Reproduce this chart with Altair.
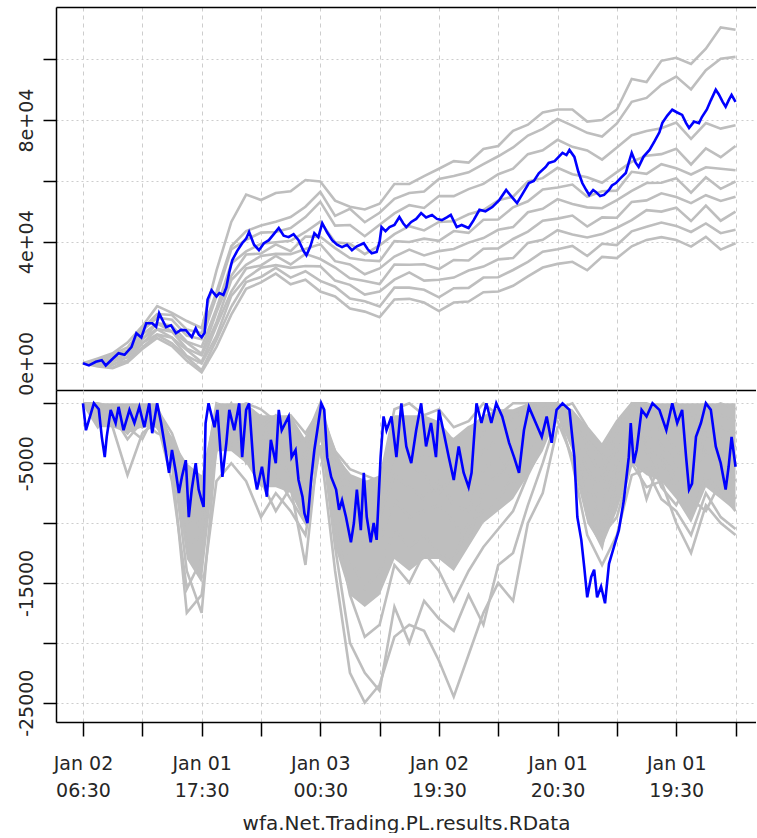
import altair as alt
import pandas as pd

# ---------------- axis ticks / labels ----------------
X_TICKS = [0, 60, 120, 180, 240, 300, 360, 420, 480, 540, 600, 660]
X_LABEL_POS = [0, 120, 240, 360, 480, 600]
X_LABEL_DAY = ["Jan 02", "Jan 01", "Jan 03", "Jan 02", "Jan 01", "Jan 01"]
X_LABEL_TIME = ["06:30", "17:30", "00:30", "19:30", "20:30", "19:30"]
X_TITLE = "wfa.Net.Trading.PL.results.RData"

EQ_TICKS = [0, 20000, 40000, 60000, 80000, 100000]
EQ_LABEL_POS = [0, 40000, 80000]
EQ_LABELS = ["0e+00", "4e+04", "8e+04"]

DD_TICKS = [0, -5000, -10000, -15000, -20000, -25000]
DD_LABEL_POS = [-5000, -15000, -25000]
DD_LABELS = ["-5000", "-15000", "-25000"]

# grid of bar index shared by the grey series
GRID_X = list(range(0, 661, 15))

# ---------------- equity curves (grey) ----------------
EQ_G1 = [0, 1600, 3300, 6800, 12200, 18800, 16600, 13900, 11600, 30500, 46500, 55500, 53700, 56000, 56600, 60300, 59800, 53500, 51500, 50600, 52500, 59000, 59000, 61600, 64000, 66500, 66000, 70500, 71500, 76500, 78500, 82500, 83500, 83500, 79500, 80000, 83500, 93500, 92500, 99500, 100500, 98500, 103500, 110500, 109700]
EQ_G2 = [0, 1100, 3000, 5200, 11400, 16200, 15900, 11100, 9900, 23500, 38500, 43500, 45300, 46600, 48100, 51500, 56400, 48500, 50800, 46400, 49500, 54100, 56000, 56500, 60600, 61600, 62800, 65500, 68100, 71000, 74900, 77100, 80400, 78200, 75800, 74600, 78900, 86000, 87300, 91600, 94300, 90100, 96400, 100200, 100800]
EQ_G3 = [0, 700, 2400, 4200, 10800, 15000, 14300, 9100, 7900, 22000, 37500, 40600, 43000, 43200, 44500, 48100, 53100, 45300, 45500, 41800, 45600, 49300, 52000, 51100, 55000, 55000, 57300, 59000, 62200, 64000, 68800, 70100, 73500, 71200, 70000, 67000, 71000, 75000, 76400, 77300, 79200, 73800, 79000, 77200, 78300]
EQ_G4 = [0, 200, 1500, 3100, 9500, 13200, 12400, 7100, 5400, 18000, 32800, 36800, 39300, 39800, 40300, 43200, 46600, 39800, 39300, 35900, 38800, 42500, 45100, 43700, 46500, 46700, 49000, 50400, 53600, 54800, 59800, 60900, 64300, 62200, 61200, 59400, 62900, 66300, 68300, 68800, 70600, 65400, 70700, 67800, 71500]
EQ_G5 = [0, 400, 500, 3300, 7900, 13100, 10500, 6800, 3100, 16800, 28800, 35800, 36100, 39100, 36900, 41700, 41600, 37900, 34600, 33900, 33600, 40200, 39900, 41000, 40300, 43500, 42900, 47200, 47300, 51300, 53300, 57200, 57800, 58800, 54800, 56600, 56800, 63000, 62300, 65500, 64200, 62100, 64500, 64000, 63500]
EQ_G6 = [0, -300, 700, 2000, 8100, 11300, 10400, 4800, 2600, 13500, 27400, 32400, 35300, 36000, 35900, 37600, 39200, 33600, 32500, 29300, 31200, 35100, 37400, 35500, 36900, 37600, 39700, 41200, 43900, 44800, 49700, 50800, 54000, 52400, 51300, 51000, 53700, 56700, 59300, 59400, 60900, 56100, 61200, 57400, 59800]
EQ_G7 = [0, -200, -500, 2100, 6600, 11200, 8500, 4400, 400, 12300, 23600, 31200, 32200, 35300, 32500, 36000, 34300, 31500, 28000, 27100, 26100, 32500, 32400, 32600, 31000, 34000, 33800, 37700, 37800, 40900, 43300, 46900, 47600, 48600, 45000, 48000, 47900, 53100, 53600, 55900, 54700, 52700, 55300, 53400, 54800]
EQ_G8 = [0, -800, -200, 800, 6700, 9500, 8400, 2400, -100, 9000, 22200, 28000, 31400, 32300, 31400, 32000, 31900, 27200, 25800, 22600, 23600, 27500, 29900, 27200, 27500, 28200, 30500, 31800, 34200, 34600, 39600, 40600, 43800, 42400, 41400, 42500, 44600, 47100, 50400, 49900, 51200, 46800, 51900, 46900, 49900]
EQ_G9 = [0, -700, -1400, 900, 5300, 9300, 6600, 2000, -2300, 7700, 18600, 26700, 28400, 31400, 28200, 30300, 27100, 25200, 21300, 20400, 18700, 24900, 24900, 24200, 21700, 24700, 24800, 28200, 28300, 30700, 33400, 36700, 37500, 38600, 35300, 39300, 38900, 43400, 44900, 46300, 45200, 43200, 46000, 42800, 43900]
EQ_G10 = [0, -1000, -1600, 300, 4700, 8300, 5700, 800, -3000, 5400, 16000, 24500, 26600, 29500, 26000, 27500, 23600, 22000, 18000, 17000, 15200, 21000, 21200, 20000, 17200, 20000, 20300, 23400, 23600, 25500, 28600, 31500, 32700, 33400, 30600, 35000, 34600, 38500, 40600, 41500, 40600, 38400, 41600, 37400, 39500]

# ---------------- equity curve (blue) ----------------
EQ_BLUE_X = [0, 6, 13, 19, 23, 30, 36, 42, 49, 54, 59, 64, 70, 74, 77, 80, 84, 89, 94, 99, 104, 110, 114, 117, 120, 123, 126, 130, 135, 138, 142, 145, 148, 151, 156, 161, 165, 168, 173, 178, 183, 188, 193, 198, 203, 208, 213, 218, 223, 226, 230, 234, 238, 242, 247, 252, 257, 262, 267, 272, 277, 284, 288, 292, 297, 300, 302, 306, 310, 315, 320, 324, 327, 332, 337, 342, 347, 353, 358, 363, 368, 372, 378, 383, 390, 395, 401, 407, 414, 421, 428, 433, 439, 445, 451, 456, 461, 468, 471, 477, 485, 489, 492, 497, 501, 505, 509, 512, 516, 519, 523, 527, 532, 535, 539, 544, 549, 552, 555, 559, 562, 567, 573, 578, 583, 586, 591, 596, 601, 606, 610, 613, 618, 623, 626, 631, 635, 640, 643, 647, 650, 653, 656, 660]
EQ_BLUE = [0, -700, 500, 1000, -700, 1500, 3300, 2800, 5300, 9900, 8500, 13200, 13200, 12000, 16500, 14500, 11900, 12500, 9900, 11000, 10900, 8600, 11500, 9500, 8600, 10000, 21000, 24000, 22000, 23100, 22500, 25000, 30000, 33900, 37000, 39500, 41000, 43200, 39000, 37200, 39500, 40500, 42500, 44500, 42000, 41500, 42500, 40500, 37000, 35500, 38500, 42800, 41500, 46100, 43000, 40500, 39000, 38200, 39000, 37200, 38500, 39500, 37500, 36200, 36600, 40000, 44800, 43500, 44800, 45500, 48100, 46000, 44800, 46500, 47500, 49400, 48000, 48800, 47500, 47100, 48000, 48800, 44800, 45500, 44500, 47000, 50500, 50000, 51400, 53700, 57000, 55000, 52700, 56000, 59300, 60000, 62500, 64600, 65900, 66500, 69200, 68500, 70200, 67900, 63000, 59300, 57000, 55400, 57000, 56300, 55000, 55400, 57000, 58500, 59300, 61000, 62600, 66000, 69200, 66000, 64600, 68000, 70200, 73000, 76000, 79100, 81500, 83400, 82500, 81700, 79000, 77400, 79500, 79000, 81000, 83500, 86500, 90000, 88500, 86000, 84400, 86500, 88300, 86000]

# ---------------- drawdowns (grey) ----------------
DD_G1 = [0, -800, -1500, -1200, -2000, -1000, -5000, -17500, -16000, -6500, -5000, -6500, -9500, -7500, -9000, -11000, -3500, -14000, -22500, -25000, -23500, -19500, -18500, -19000, -21500, -24500, -21000, -17500, -15000, -16500, -10000, -7500, -2000, -1000, -4000, -6000, -4000, -2000, -3500, -5000, -7000, -9500, -6000, -7500, -9000]
DD_G2 = [0, -1500, -800, -2500, -1200, -2000, -4000, -14000, -17500, -3500, -2000, -4000, -6500, -9000, -7000, -13500, -2000, -12000, -20000, -22500, -24000, -17000, -20000, -16500, -18000, -19000, -16000, -18500, -13500, -12500, -8500, -5000, -1000, -3000, -8500, -11000, -9500, -5000, -7000, -6500, -10000, -12500, -8500, -10000, -11000]
DD_G3 = [0, -500, -2000, -6000, -2500, -1500, -6500, -15500, -13000, -2000, -3500, -2500, -5000, -6000, -8000, -10000, -1000, -10000, -16000, -19500, -18500, -13500, -15000, -12500, -14000, -16500, -14000, -12000, -10500, -9000, -6000, -3500, -500, -5000, -11000, -13500, -11000, -6000, -5500, -8000, -9000, -11000, -7500, -9500, -10500]
DD_G4 = [0, -1000, -1200, -2000, -3000, -500, -3500, -12000, -11000, -4000, -1000, -5000, -3500, -4500, -6000, -8500, -2500, -8000, -13000, -15500, -14000, -10500, -12000, -11000, -12500, -13000, -10000, -9000, -8000, -6000, -4000, -2000, 0, -2000, -7000, -10000, -8000, -3500, -8000, -4500, -6000, -8000, -9000, -6500, -8000]
DD_G5 = [0, -300, -1000, -3000, -1500, -2500, -3000, -10000, -9000, -1500, -2500, -1500, -4000, -3000, -5000, -7000, -500, -7000, -10500, -12000, -11500, -8000, -9500, -9000, -8500, -10000, -11500, -7000, -6000, -4500, -3000, -1000, -1500, -4500, -9500, -12000, -6000, -1500, -4000, -7000, -8500, -6000, -4000, -5000, -6500]
DD_G6 = [0, -2000, -500, -1500, -2000, -1000, -4500, -8500, -10500, -3000, -500, -3000, -2000, -5000, -4000, -5000, -1500, -6000, -9000, -10000, -9500, -6000, -7000, -8000, -6500, -8500, -9000, -5500, -4500, -7000, -2000, -500, 0, -3500, -6000, -8500, -5000, -2500, -2000, -3500, -5000, -7000, -2500, -4000, -3500]
DD_G7 = [0, -700, -1800, -1000, -1000, -2000, -3500, -7500, -9500, -1000, -1500, -1000, -3000, -2000, -3000, -4500, -500, -5000, -8000, -8500, -8000, -4500, -5000, -6000, -7500, -6000, -5500, -4000, -3000, -2500, -1500, -1500, -500, -2500, -5500, -7000, -3500, -1000, -3000, -2000, -4000, -4500, -1500, -2500, -5000]
DD_G8 = [0, -1200, -1500, -2500, -500, -1500, -3000, -6500, -8500, -2000, 0, -2000, -1000, -3500, -2000, -3500, -1000, -4000, -7000, -7000, -7500, -3000, -3500, -4500, -4000, -5500, -3500, -2500, -2000, -1000, -500, 0, 0, -1500, -4000, -6000, -2500, -500, -1000, -1500, -2500, -3000, -1000, -2000, -2500]
DD_G9 = [0, -400, -700, -1500, -1000, -500, -2500, -6000, -8000, -500, -1000, -500, -2000, -1000, -2500, -3000, 0, -4500, -6000, -6500, -7000, -1500, -2000, -3000, -2500, -3000, -2000, -1500, -500, -1500, 0, -500, 0, -1000, -3000, -4500, -2000, 0, -500, -1000, -1500, -2000, 0, -1000, -1500]
DD_G10 = [0, 0, -300, -500, -300, -1000, -3000, -6000, -7500, 0, -500, 0, -500, -1500, -1000, -2500, -500, -4000, -5500, -6000, -6500, -500, 0, -1000, -500, -2000, -1500, 0, -1000, 0, 0, 0, -500, 0, -2000, -3500, -1500, 0, 0, -500, 0, -1000, -500, 0, -500]

# dense core of the grey drawdown bundle (upper and lower edge)
DD_CORE_TOP = [0, 0, 0, 0, 0, 0, -3000, -5000, -6000, 0, 0, 0, -1000, -1000, -1000, -3000, 0, -4000, -6000, -6500, -6000, -1000, -1000, -1000, -1500, -3000, -2000, -1000, -500, -500, 0, 0, 0, -500, -2000, -3500, -1500, 0, 0, 0, 0, 0, 0, 0, 0]
DD_CORE_BOTTOM = [0, -2000, -2000, -2500, -2000, -2000, -4500, -13000, -15000, -4000, -4000, -5000, -7000, -7000, -7500, -10000, -2500, -12000, -16000, -17000, -16000, -13000, -14000, -13000, -13000, -14000, -12000, -10000, -9000, -8000, -6000, -4000, -1000, -4000, -10000, -12000, -9000, -5000, -6000, -6500, -8000, -10000, -7000, -8000, -9000]

# ---------------- drawdown (blue) ----------------
DD_BLUE_X = [0, 3, 6, 11, 16, 19, 22, 24, 28, 33, 36, 41, 47, 52, 57, 62, 67, 70, 75, 79, 84, 87, 90, 94, 97, 100, 104, 107, 110, 114, 117, 120, 122, 124, 127, 133, 136, 141, 145, 148, 153, 158, 161, 165, 168, 173, 176, 181, 186, 190, 195, 198, 201, 208, 211, 215, 218, 222, 224, 227, 231, 234, 237, 241, 244, 247, 251, 256, 259, 262, 266, 271, 274, 277, 281, 284, 287, 291, 294, 297, 301, 304, 307, 312, 317, 322, 327, 332, 337, 342, 347, 352, 357, 360, 365, 370, 375, 380, 385, 390, 393, 398, 403, 408, 413, 418, 424, 431, 436, 441, 446, 451, 458, 464, 469, 474, 479, 485, 492, 497, 500, 504, 507, 510, 514, 517, 520, 524, 528, 532, 537, 542, 547, 552, 554, 557, 560, 565, 570, 576, 583, 590, 596, 601, 606, 610, 613, 616, 620, 625, 630, 635, 640, 645, 650, 653, 656, 660]
DD_BLUE = [0, -2250, -1400, 0, -500, -2800, -4500, -2800, -550, -1650, -300, -2250, -550, -1650, -300, -2000, 0, -2500, 0, -1650, -4150, -5800, -3900, -5800, -7500, -6150, -4750, -9500, -7200, -5000, -7200, -8100, -8650, -1650, 0, -2000, -550, -6150, -3300, -550, -2250, 0, -4500, -550, 0, -5800, -7200, -5300, -7800, -3050, -5000, -550, -2250, -1100, -4500, -3900, -6400, -7800, -9200, -10000, -6150, -3900, -2250, 0, -550, -4500, -6150, -7200, -8900, -8100, -9500, -11600, -10000, -7200, -10600, -5800, -9500, -11600, -10000, -11400, -4500, -1100, -2250, -1100, -4500, 0, -3600, -5000, -2250, 0, -3600, -1650, -4500, -550, -2500, -4500, -6400, -3600, -5800, -7000, -5800, 0, -1650, 0, -1650, 0, -1100, -3300, -4500, -5800, -2250, -300, -1650, -2800, -1100, -3300, -550, 0, -550, -4500, -9500, -11400, -13700, -16200, -14500, -13900, -16200, -15300, -16700, -13400, -12000, -10600, -8100, -4500, -1650, -5000, -3900, -550, -1100, 0, -550, -2250, 0, -1650, -550, -4500, -7200, -6700, -2800, -1650, 0, -550, -3600, -5000, -7200, -5300, -2800, -5300]

EQ_GRAYS = [EQ_G1, EQ_G2, EQ_G3, EQ_G4, EQ_G5, EQ_G6, EQ_G7, EQ_G8, EQ_G9, EQ_G10]
DD_GRAYS = [DD_G1, DD_G2, DD_G3, DD_G4, DD_G5, DD_G6, DD_G7, DD_G8, DD_G9, DD_G10]


def gray_frame(series_list, prefix):
    rows = []
    for i, vals in enumerate(series_list):
        for x, v in zip(GRID_X, vals):
            rows.append({"x": x, "v": v, "s": f"{prefix}{i}"})
    return pd.DataFrame(rows)


eq_gray_df = gray_frame(EQ_GRAYS, "eq")
dd_gray_df = gray_frame(DD_GRAYS, "dd")
dd_core_df = pd.DataFrame({"x": GRID_X, "hi": DD_CORE_TOP, "lo": DD_CORE_BOTTOM})
eq_blue_df = pd.DataFrame({"x": EQ_BLUE_X, "v": EQ_BLUE})
dd_blue_df = pd.DataFrame({"x": DD_BLUE_X, "v": DD_BLUE})


def label_expr(positions, texts):
    parts = [f"datum.value == {p} ? {t}" for p, t in zip(positions, texts)]
    return " : ".join(parts) + " : ''"


x_expr = label_expr(X_LABEL_POS, [f"['{a}', '{b}']" for a, b in zip(X_LABEL_DAY, X_LABEL_TIME)])
eq_expr = label_expr(EQ_LABEL_POS, [f"'{t}'" for t in EQ_LABELS])
dd_expr = label_expr(DD_LABEL_POS, [f"'{t}'" for t in DD_LABELS])

FONT = "DejaVu Sans"
TXT = "#262626"
GRID = "#cdcdcd"
GRAY = "#BEBEBE"
BLUE = "#0000FF"

x_scale = alt.Scale(domain=[-27.3, 680.7], nice=False, zero=False)
eq_scale = alt.Scale(domain=[-8780, 117200], nice=False, zero=False)
dd_scale = alt.Scale(domain=[-26612, 1110], nice=False, zero=False)


def y_axis(values, expr):
    return alt.Axis(values=values, labelExpr=expr, labelAngle=270, labelAlign="center",
                    labelBaseline="alphabetic", tickSize=13, labelPadding=11,
                    labelFont=FONT, labelFontSize=19, labelColor=TXT, labelOverlap=False,
                    tickColor="#000000", tickWidth=1.5, domainColor="#000000", domainWidth=1.5,
                    grid=True, gridColor=GRID, gridDash=[2, 3], gridWidth=1, title=None)


x_grid_axis = alt.Axis(values=X_TICKS, labels=False, ticks=False, domain=True,
                       domainColor="#000000", domainWidth=1.5, grid=True, gridColor=GRID,
                       gridDash=[4, 4], gridWidth=1, title=None)
x_top_axis = alt.Axis(orient="top", labels=False, ticks=False, domain=True,
                      domainColor="#000000", domainWidth=1.5, grid=False, title=None)
x_bottom_axis = alt.Axis(values=X_TICKS, labelExpr=x_expr, labelAngle=0, labelAlign="center",
                         labelBaseline="top", labelFlush=False, labelOverlap=False,
                         labelFont=FONT, labelFontSize=19, labelColor=TXT, labelLineHeight=27,
                         tickSize=14, labelPadding=18, tickColor="#000000", tickWidth=1.5,
                         domain=True, domainColor="#000000", domainWidth=1.5,
                         grid=True, gridColor=GRID, gridDash=[4, 4], gridWidth=1,
                         title=X_TITLE, titleFont=FONT, titleFontSize=20,
                         titleFontWeight="normal", titleColor=TXT, titlePadding=13)

eq_axis = y_axis(EQ_TICKS, eq_expr)
dd_axis = y_axis(DD_TICKS, dd_expr)

top_gray = alt.Chart(eq_gray_df).mark_line(color=GRAY, strokeWidth=2.6).encode(
    x=alt.X("x:Q", scale=x_scale, axis=x_grid_axis),
    y=alt.Y("v:Q", scale=eq_scale, axis=eq_axis),
    detail="s:N",
)
top_blue = alt.Chart(eq_blue_df).mark_line(color=BLUE, strokeWidth=2.6).encode(
    x=alt.X("x:Q", scale=x_scale, axis=x_top_axis),
    y=alt.Y("v:Q", scale=eq_scale, axis=eq_axis),
)
top = alt.layer(top_gray, top_blue).resolve_axis(x="independent").properties(width=700, height=383)

bot_core = alt.Chart(dd_core_df).mark_area(color=GRAY, opacity=1).encode(
    x=alt.X("x:Q", scale=x_scale, axis=x_bottom_axis),
    y=alt.Y("hi:Q", scale=dd_scale, axis=dd_axis),
    y2="lo:Q",
)
bot_gray = alt.Chart(dd_gray_df).mark_line(color=GRAY, strokeWidth=2.6).encode(
    x=alt.X("x:Q", scale=x_scale, axis=x_bottom_axis),
    y=alt.Y("v:Q", scale=dd_scale, axis=dd_axis),
    detail="s:N",
)
bot_blue = alt.Chart(dd_blue_df).mark_line(color=BLUE, strokeWidth=2.6).encode(
    x=alt.X("x:Q", scale=x_scale, axis=x_bottom_axis),
    y=alt.Y("v:Q", scale=dd_scale, axis=dd_axis),
)
bottom = alt.layer(bot_core, bot_gray, bot_blue).properties(width=700, height=332)

chart = (
    alt.vconcat(top, bottom, spacing=0, bounds="flush")
    .properties(padding={"left": 16, "top": 7, "right": 0, "bottom": 0}, background="white")
    .configure_view(stroke=None)
)

chart.save("out.html", embed_options={"renderer": "svg", "actions": False})
